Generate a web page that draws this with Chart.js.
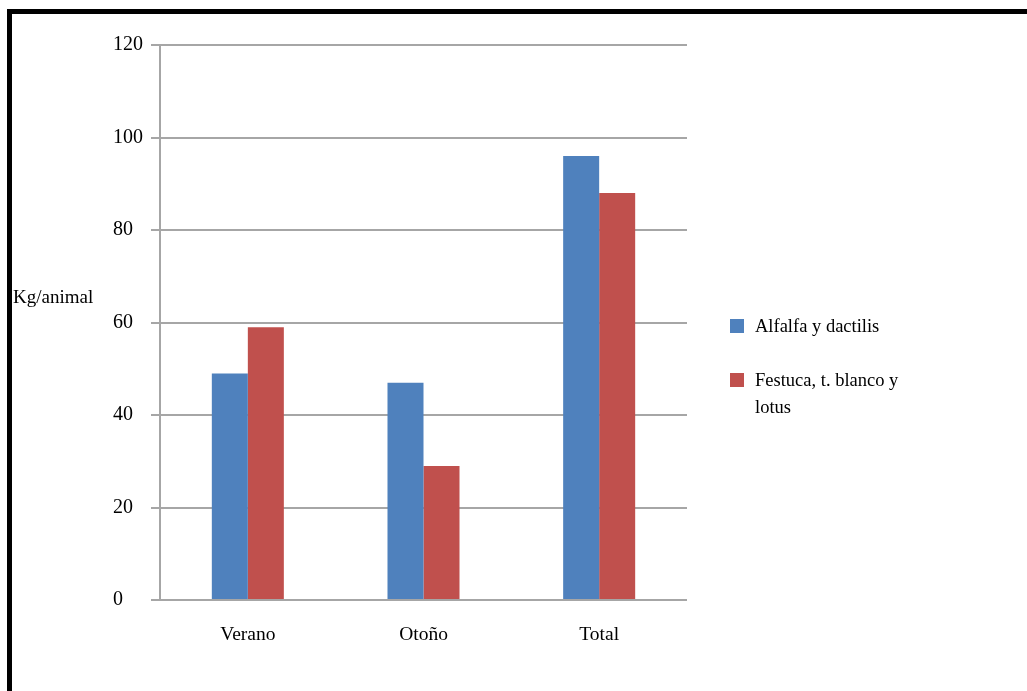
<!DOCTYPE html>
<html>
<head>
<meta charset="utf-8">
<title>Kg/animal por estación</title>
<script src="https://cdn.jsdelivr.net/npm/chart.js@4/dist/chart.umd.min.js"></script>
<style>
  html, body { margin: 0; padding: 0; background: #fff; }
  #wrap { position: relative; width: 1027px; height: 691px; }
</style>
</head>
<body>
<div id="wrap"><canvas id="c" width="1027" height="691"></canvas></div>
<script>
// Data
const categories = ['Verano', 'Otoño', 'Total'];
const alfalfaDactilis = [49, 47, 96];
const festucaLotus = [59, 29, 88];
const seriesNames = ['Alfalfa y dactilis', 'Festuca, t. blanco y lotus'];
const seriesColors = ['#4F81BD', '#C0504D'];
const yTicks = [0, 20, 40, 60, 80, 100, 120];
const yTitle = 'Kg/animal';

const FONT = '"Liberation Serif", "Times New Roman", serif';
const GRID = '#a6a6a6';

// Frame, y-axis caption and a wrapped legend drawn on the canvas
const decorations = {
  id: 'decorations',
  afterDraw(chart) {
    const ctx = chart.ctx;
    ctx.save();
    // black frame (top and left edges visible)
    ctx.fillStyle = '#000';
    ctx.fillRect(7, 9, 1020, 5);
    ctx.fillRect(7, 9, 5, 682);

    // y caption, horizontal
    ctx.font = '19px ' + FONT;
    ctx.fillStyle = '#000';
    ctx.textBaseline = 'middle';
    ctx.textAlign = 'left';
    ctx.fillText(yTitle, 13, 298);

    // legend with word wrap
    ctx.font = '18.5px ' + FONT;
    const boxX = 730, textX = 755, maxW = 160, lineH = 27;
    let y = 327;
    chart.data.datasets.forEach((ds) => {
      const words = ds.label.split(' ');
      const lines = [];
      let cur = '';
      words.forEach((w) => {
        const t = cur ? cur + ' ' + w : w;
        if (ctx.measureText(t).width > maxW && cur) { lines.push(cur); cur = w; }
        else cur = t;
      });
      if (cur) lines.push(cur);
      ctx.fillStyle = ds.backgroundColor;
      ctx.fillRect(boxX, y - 8, 14, 14);
      ctx.fillStyle = '#000';
      lines.forEach((ln, i) => ctx.fillText(ln, textX, y + i * lineH));
      y += 54;
    });
    ctx.restore();
  }
};

new Chart(document.getElementById('c'), {
  type: 'bar',
  data: {
    labels: categories,
    datasets: [
      { label: seriesNames[0], data: alfalfaDactilis, backgroundColor: seriesColors[0] },
      { label: seriesNames[1], data: festucaLotus, backgroundColor: seriesColors[1] }
    ]
  },
  options: {
    responsive: false,
    animation: false,
    devicePixelRatio: 1,
    layout: { padding: { left: 113, right: 340, top: 45, bottom: 0 } },
    datasets: { bar: { categoryPercentage: 0.41, barPercentage: 1.0, borderWidth: 0 } },
    plugins: {
      legend: { display: false },
      tooltip: { enabled: false },
      title: { display: false }
    },
    scales: {
      x: {
        grid: { display: false, drawTicks: false },
        border: { display: false },
        ticks: { color: '#000', font: { family: FONT, size: 19.5 }, padding: 23 },
        afterFit(scale) { scale.height = 91; }
      },
      y: {
        min: 0,
        max: 120,
        afterBuildTicks(scale) { scale.ticks = yTicks.map(v => ({ value: v })); },
        grid: { color: GRID, lineWidth: 2, tickLength: 9, tickColor: GRID },
        border: { display: true, color: GRID, width: 2 },
        ticks: { color: '#000', font: { family: FONT, size: 20 }, crossAlign: 'far', padding: 6 },
        afterFit(scale) { scale.width = 47; }
      }
    }
  },
  plugins: [decorations]
});
</script>
</body>
</html>
